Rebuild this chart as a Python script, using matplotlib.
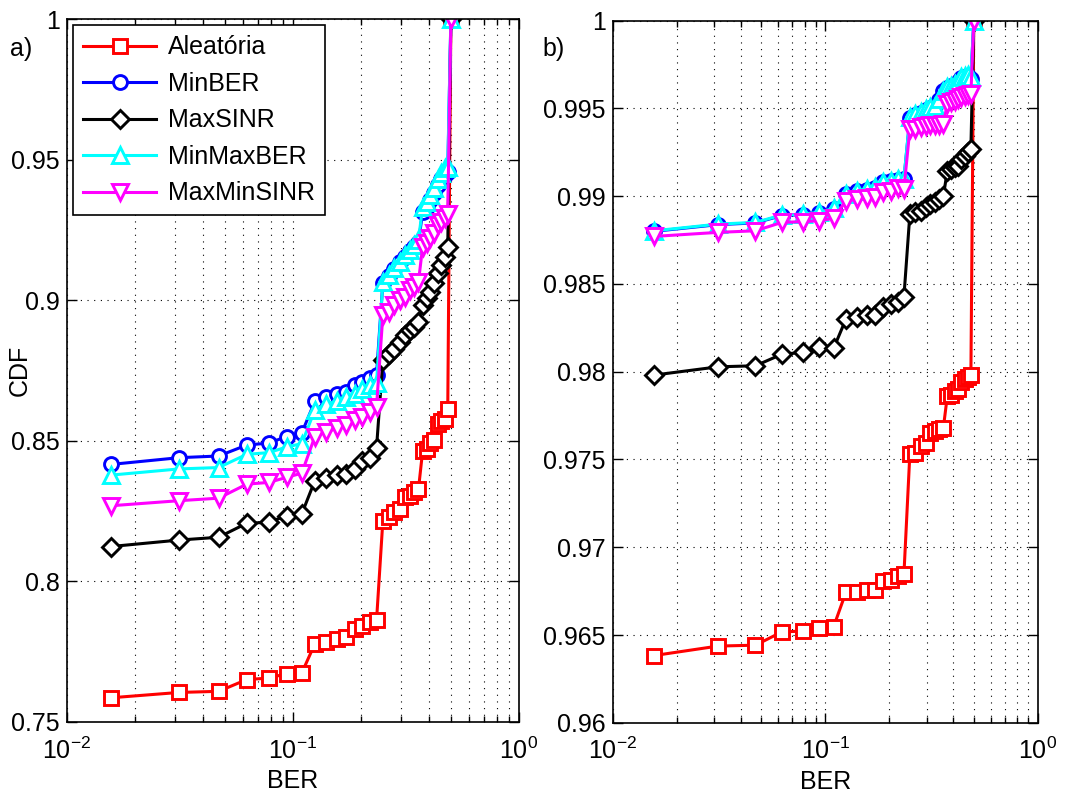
import matplotlib
matplotlib.use('Agg')
import matplotlib.pyplot as plt
from matplotlib.ticker import FuncFormatter, LogLocator, NullFormatter

plt.rcParams['font.family'] = ['Liberation Sans', 'DejaVu Sans']
plt.rcParams['mathtext.fontset'] = 'custom'
plt.rcParams['mathtext.rm'] = 'Liberation Sans'
plt.rcParams['mathtext.it'] = 'Liberation Sans'

# BER values (multiples of 1/64), last point closes the CDF at 1
ber = [0.015625, 0.03125, 0.046875, 0.0625, 0.078125, 0.09375, 0.109375, 0.125,
       0.140625, 0.15625, 0.171875, 0.1875, 0.203125, 0.21875, 0.234375, 0.25,
       0.265625, 0.28125, 0.296875, 0.3125, 0.328125, 0.34375, 0.359375, 0.375,
       0.390625, 0.40625, 0.421875, 0.4375, 0.453125, 0.46875, 0.484375, 0.5]

labels = ['Aleatória', 'MinBER', 'MaxSINR', 'MinMaxBER', 'MaxMinSINR']

# panel a)
a_aleat = [0.7586, 0.7605, 0.7609, 0.7651, 0.7656, 0.7672, 0.7674, 0.7778,
           0.7784, 0.7796, 0.7804, 0.7831, 0.7841, 0.7855, 0.7861, 0.8216,
           0.8228, 0.8246, 0.8257, 0.8299, 0.8305, 0.8317, 0.8328, 0.8464,
           0.8470, 0.8494, 0.8502, 0.8559, 0.8570, 0.8577, 0.8612, 1.0]
a_minber = [0.8416, 0.8440, 0.8446, 0.8485, 0.8492, 0.8515, 0.8528, 0.8640,
            0.8655, 0.8665, 0.8675, 0.8698, 0.8710, 0.8722, 0.8735, 0.9062,
            0.9085, 0.9110, 0.9135, 0.9155, 0.9175, 0.9190, 0.9205, 0.9315,
            0.9330, 0.9355, 0.9380, 0.9410, 0.9430, 0.9445, 0.9455, 1.0]
a_maxsinr = [0.8124, 0.8147, 0.8157, 0.8207, 0.8210, 0.8234, 0.8240, 0.8358,
             0.8366, 0.8378, 0.8382, 0.8400, 0.8429, 0.8440, 0.8475, 0.8787,
             0.8809, 0.8826, 0.8852, 0.8876, 0.8894, 0.8906, 0.8924, 0.8983,
             0.9007, 0.9030, 0.9060, 0.9096, 0.9125, 0.9155, 0.9190, 1.0]
a_minmaxber = [0.8378, 0.8400, 0.8405, 0.8452, 0.8458, 0.8478, 0.8490, 0.8610,
               0.8630, 0.8642, 0.8655, 0.8668, 0.8686, 0.8698, 0.8704, 0.9066,
               0.9090, 0.9113, 0.9137, 0.9160, 0.9179, 0.9196, 0.9214, 0.9333,
               0.9350, 0.9374, 0.9398, 0.9433, 0.9451, 0.9469, 0.9475, 1.0]
a_maxminsinr = [0.8269, 0.8287, 0.8296, 0.8346, 0.8352, 0.8370, 0.8385, 0.8515,
                0.8532, 0.8544, 0.8556, 0.8574, 0.8586, 0.8604, 0.8621, 0.8947,
                0.8959, 0.8983, 0.9001, 0.9012, 0.9036, 0.9048, 0.9066, 0.9190,
                0.9202, 0.9220, 0.9238, 0.9267, 0.9279, 0.9291, 0.9306, 1.0]

# panel b)
b_aleat = [0.96383, 0.96437, 0.96442, 0.96518, 0.96522, 0.96541, 0.96547, 0.96744,
           0.96744, 0.96759, 0.96759, 0.96807, 0.96816, 0.96835, 0.96845, 0.97534,
           0.97538, 0.97576, 0.97595, 0.97652, 0.97661, 0.97671, 0.97680, 0.97860,
           0.97870, 0.97889, 0.97900, 0.97940, 0.97960, 0.97970, 0.97980, 1.0]
b_minber = [0.98800, 0.98838, 0.98848, 0.98890, 0.98895, 0.98905, 0.98928, 0.99010,
            0.99028, 0.99038, 0.99048, 0.99080, 0.99085, 0.99095, 0.99098, 0.99445,
            0.99465, 0.99475, 0.99494, 0.99503, 0.99513, 0.99550, 0.99598, 0.99617,
            0.99627, 0.99636, 0.99649, 0.99672, 0.99682, 0.99685, 0.99668, 1.0]
b_maxsinr = [0.97981, 0.98028, 0.98034, 0.98100, 0.98110, 0.98139, 0.98133, 0.98300,
             0.98310, 0.98323, 0.98323, 0.98367, 0.98386, 0.98395, 0.98427, 0.98898,
             0.98908, 0.98917, 0.98936, 0.98955, 0.98969, 0.98984, 0.98999, 0.99145,
             0.99155, 0.99164, 0.99174, 0.99212, 0.99231, 0.99250, 0.99269, 1.0]
b_minmaxber = [0.98803, 0.98841, 0.98851, 0.98893, 0.98898, 0.98908, 0.98931, 0.99012,
               0.99031, 0.99041, 0.99050, 0.99083, 0.99088, 0.99098, 0.99100, 0.99449,
               0.99468, 0.99478, 0.99497, 0.99506, 0.99516, 0.99554, 0.99601, 0.99620,
               0.99630, 0.99639, 0.99652, 0.99677, 0.99687, 0.99690, 0.99680, 1.0]
b_maxminsinr = [0.98771, 0.98794, 0.98803, 0.98851, 0.98855, 0.98860, 0.98874, 0.98974,
                0.98984, 0.98988, 0.98993, 0.99026, 0.99031, 0.99045, 0.99041, 0.99383,
                0.99383, 0.99392, 0.99402, 0.99406, 0.99406, 0.99406, 0.99411, 0.99525,
                0.99535, 0.99544, 0.99554, 0.99563, 0.99573, 0.99576, 0.99582, 1.0]

styles = [('#ff0000', 's', 9.5), ('#0000ff', 'o', 10), ('#000000', 'D', 9.5),
          ('#00ffff', '^', 11.5), ('#ff00ff', 'v', 11.5)]

fig = plt.figure(figsize=(10.81, 7.96), dpi=100)
ax1 = fig.add_axes([0.062, 0.093, 0.418, 0.883])
ax2 = fig.add_axes([0.567, 0.092, 0.393, 0.882])

fs = 18


def draw(ax, series, ylim, yticks):
    for (c, m, ms), ys, lab in zip(styles, series, labels):
        ax.plot(ber, ys, color=c, marker=m, markersize=ms, markerfacecolor='w',
                markeredgecolor=c, markeredgewidth=2.1, linewidth=2.2, label=lab)
    ax.set_xscale('log')
    ax.set_xlim(1e-2, 1)
    ax.set_ylim(*ylim)
    ax.set_yticks(yticks)
    ax.yaxis.set_major_formatter(FuncFormatter(lambda v, p: '%g' % round(v, 4)))
    ax.xaxis.set_minor_locator(LogLocator(base=10, subs=range(2, 10)))
    ax.xaxis.set_minor_formatter(NullFormatter())
    ax.grid(True, which='major', linestyle=(0, (1, 5)), color='k', linewidth=0.8)
    ax.grid(True, which='minor', axis='x', linestyle=(0, (1, 5)), color='k', linewidth=0.8)
    ax.tick_params(which='both', direction='in', top=True, right=True, labelsize=fs)
    ax.tick_params(which='major', length=7, width=1)
    ax.tick_params(which='minor', length=4, width=1)
    ax.tick_params(axis='x', which='major', pad=11)
    ax.tick_params(axis='y', which='major', pad=5)
    for s in ax.spines.values():
        s.set_linewidth(1.2)
    ax.set_xlabel('BER', fontsize=fs, labelpad=4)


draw(ax1, [a_aleat, a_minber, a_maxsinr, a_minmaxber, a_maxminsinr],
     (0.75, 1.0), [0.75, 0.8, 0.85, 0.9, 0.95, 1.0])
draw(ax2, [b_aleat, b_minber, b_maxsinr, b_minmaxber, b_maxminsinr],
     (0.96, 1.0), [0.96, 0.965, 0.97, 0.975, 0.98, 0.985, 0.99, 0.995, 1.0])

ax1.set_ylabel('CDF', fontsize=fs)
ax1.yaxis.set_label_coords(-0.078, 0.5)
leg = ax1.legend(loc='upper left', fontsize=fs, handlelength=2.9, borderaxespad=0.25,
                 fancybox=False, edgecolor='k', framealpha=1, labelspacing=0.5,
                 handletextpad=0.5, borderpad=0.4)
leg.get_frame().set_linewidth(1.2)

fig.text(0.009, 0.93, 'a)', fontsize=fs)
fig.text(0.502, 0.93, 'b)', fontsize=fs)

fig.savefig('out.png', dpi=100)
